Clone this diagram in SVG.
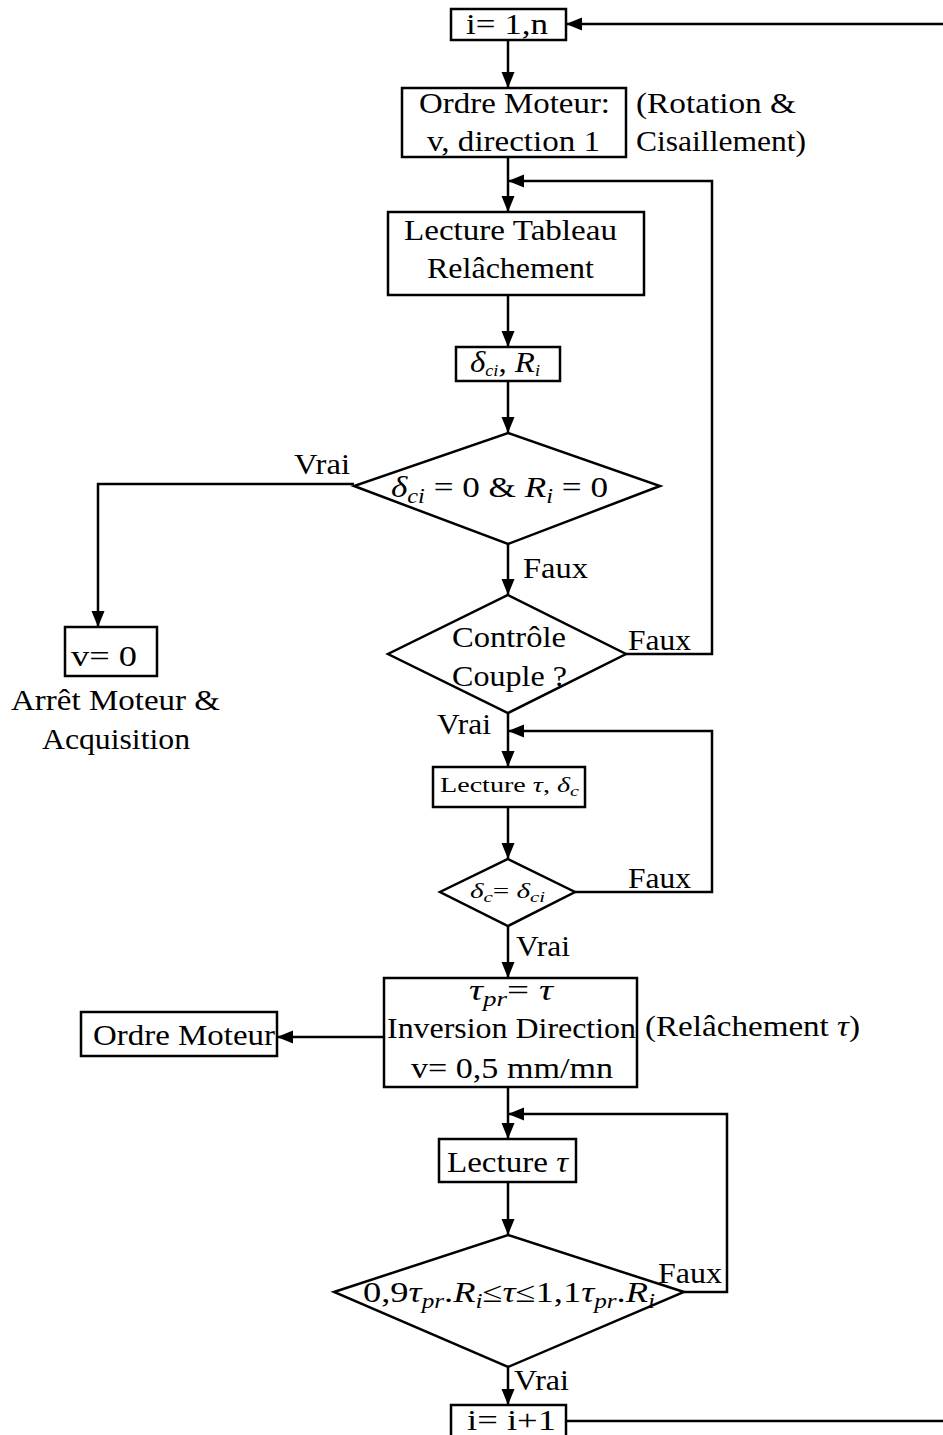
<svg xmlns="http://www.w3.org/2000/svg" width="943" height="1435" viewBox="0 0 943 1435">
<style>
.n{fill:#fff;stroke:#000;stroke-width:2.5}
.c{fill:none;stroke:#000;stroke-width:2.5}
text{font-family:"Liberation Serif","DejaVu Serif",serif;font-size:29px;fill:#000}
.s{font-size:21px}
.i{font-style:italic}
</style>
<defs>
<marker id="a" markerUnits="userSpaceOnUse" markerWidth="18" markerHeight="14" refX="16" refY="7" orient="auto">
<path d="M0,0.5 L16,7 L0,13.5 z" fill="#000"/>
</marker>
</defs>
<rect width="943" height="1435" fill="#fff"/>
<g id="connectors">
<path class="c" d="M943,24 L566,24" marker-end="url(#a)"/>
<path class="c" d="M508,40 L508,88" marker-end="url(#a)"/>
<path class="c" d="M508,157 L508,212" marker-end="url(#a)"/>
<path class="c" d="M626,654 L712,654 L712,181 L508,181" marker-end="url(#a)"/>
<path class="c" d="M508,295 L508,347" marker-end="url(#a)"/>
<path class="c" d="M508,381 L508,433" marker-end="url(#a)"/>
<path class="c" d="M354,484 L98,484 L98,627" marker-end="url(#a)"/>
<path class="c" d="M508,544 L508,595" marker-end="url(#a)"/>
<path class="c" d="M508,713 L508,767" marker-end="url(#a)"/>
<path class="c" d="M575,892 L712,892 L712,731 L508,731" marker-end="url(#a)"/>
<path class="c" d="M508,807 L508,859" marker-end="url(#a)"/>
<path class="c" d="M508,926 L508,978" marker-end="url(#a)"/>
<path class="c" d="M384,1037 L277,1037" marker-end="url(#a)"/>
<path class="c" d="M508,1087 L508,1139" marker-end="url(#a)"/>
<path class="c" d="M684,1292 L727,1292 L727,1114 L508,1114" marker-end="url(#a)"/>
<path class="c" d="M508,1182 L508,1235" marker-end="url(#a)"/>
<path class="c" d="M508,1367 L508,1405" marker-end="url(#a)"/>
<path class="c" d="M566,1421 L943,1421"/>
<text x="294" y="474" textLength="56" lengthAdjust="spacingAndGlyphs">Vrai</text>
<text x="523" y="578" textLength="65" lengthAdjust="spacingAndGlyphs">Faux</text>
<text x="628" y="650" textLength="63" lengthAdjust="spacingAndGlyphs">Faux</text>
<text x="437" y="734" textLength="54" lengthAdjust="spacingAndGlyphs">Vrai</text>
<text x="628" y="888" textLength="63" lengthAdjust="spacingAndGlyphs">Faux</text>
<text x="516" y="956" textLength="54" lengthAdjust="spacingAndGlyphs">Vrai</text>
<text x="658" y="1283" textLength="64" lengthAdjust="spacingAndGlyphs">Faux</text>
<text x="514" y="1390" textLength="55" lengthAdjust="spacingAndGlyphs">Vrai</text>
</g>
<g id="n_init">
<rect class="n" x="451" y="9" width="115" height="31"/>
<text x="466" y="34" textLength="82" lengthAdjust="spacingAndGlyphs">i= 1,n</text>
</g>
<g id="n_ordre1">
<rect class="n" x="402" y="88" width="224" height="69"/>
<text x="419" y="113" textLength="191" lengthAdjust="spacingAndGlyphs">Ordre Moteur:</text>
<text x="427" y="151" textLength="173" lengthAdjust="spacingAndGlyphs">v, direction 1</text>
<text x="636" y="113" textLength="160" lengthAdjust="spacingAndGlyphs">(Rotation &amp;</text>
<text x="636" y="151" textLength="170" lengthAdjust="spacingAndGlyphs">Cisaillement)</text>
</g>
<g id="n_tableau">
<rect class="n" x="388" y="212" width="256" height="83"/>
<text x="404" y="240" textLength="213" lengthAdjust="spacingAndGlyphs">Lecture Tableau</text>
<text x="427" y="278" textLength="167" lengthAdjust="spacingAndGlyphs">Relâchement</text>
</g>
<g id="n_dci">
<rect class="n" x="456" y="347" width="104" height="34"/>
<text x="470" y="372" font-size="23" textLength="70" lengthAdjust="spacingAndGlyphs"><tspan class="i">δ</tspan><tspan class="i" font-size="16" dy="4">ci</tspan><tspan dy="-4">, </tspan><tspan class="i">R</tspan><tspan class="i" font-size="16" dy="4">i</tspan></text>
</g>
<g id="n_test0">
<polygon class="n" points="508,433 660,486 508,544 354,486"/>
<text x="391" y="497" textLength="217" lengthAdjust="spacingAndGlyphs"><tspan class="i">δ</tspan><tspan class="i" font-size="20" dy="6">ci</tspan><tspan dy="-6"> = 0 &amp; </tspan><tspan class="i">R</tspan><tspan class="i" font-size="20" dy="6">i</tspan><tspan dy="-6"> = 0</tspan></text>
</g>
<g id="n_stop">
<rect class="n" x="65" y="627" width="92" height="49"/>
<text x="71" y="666" textLength="66" lengthAdjust="spacingAndGlyphs">v= 0</text>
<text x="11" y="710" textLength="209" lengthAdjust="spacingAndGlyphs">Arrêt Moteur &amp;</text>
<text x="42" y="749" textLength="148" lengthAdjust="spacingAndGlyphs">Acquisition</text>
</g>
<g id="n_couple">
<polygon class="n" points="508,595 626,654 508,713 388,654"/>
<text x="452" y="647" textLength="114" lengthAdjust="spacingAndGlyphs">Contrôle</text>
<text x="452" y="686" textLength="115" lengthAdjust="spacingAndGlyphs">Couple ?</text>
</g>
<g id="n_lecture1">
<rect class="n" x="433" y="767" width="152" height="40"/>
<text x="440" y="792" class="s" textLength="139" lengthAdjust="spacingAndGlyphs">Lecture <tspan class="i">τ</tspan>, <tspan class="i">δ</tspan><tspan class="i" font-size="15" dy="4">c</tspan></text>
</g>
<g id="n_test1">
<polygon class="n" points="508,859 575,892 508,926 440,892"/>
<text x="470" y="898" class="s" textLength="75" lengthAdjust="spacingAndGlyphs"><tspan class="i">δ</tspan><tspan class="i" font-size="15" dy="4">c</tspan><tspan dy="-4">= </tspan><tspan class="i">δ</tspan><tspan class="i" font-size="15" dy="4">ci</tspan></text>
</g>
<g id="n_inversion">
<rect class="n" x="384" y="978" width="253" height="109"/>
<text x="469" y="1000" textLength="84" lengthAdjust="spacingAndGlyphs"><tspan class="i">τ</tspan><tspan class="i" font-size="20" dy="6">pr</tspan><tspan dy="-6">= </tspan><tspan class="i">τ</tspan></text>
<text x="387" y="1038" textLength="249" lengthAdjust="spacingAndGlyphs">Inversion Direction</text>
<text x="411" y="1078" textLength="202" lengthAdjust="spacingAndGlyphs">v= 0,5 mm/mn</text>
<text x="645" y="1036" textLength="215" lengthAdjust="spacingAndGlyphs">(Relâchement <tspan class="i">τ</tspan>)</text>
</g>
<g id="n_ordre2">
<rect class="n" x="81" y="1012" width="196" height="44"/>
<text x="93" y="1045" textLength="182" lengthAdjust="spacingAndGlyphs">Ordre Moteur</text>
</g>
<g id="n_lecture2">
<rect class="n" x="439" y="1139" width="137" height="43"/>
<text x="447" y="1172" textLength="121" lengthAdjust="spacingAndGlyphs">Lecture <tspan class="i">τ</tspan></text>
</g>
<g id="n_test2">
<polygon class="n" points="508,1235 684,1292 508,1367 334,1292"/>
<text x="363" y="1302" textLength="292" lengthAdjust="spacingAndGlyphs">0,9<tspan class="i">τ</tspan><tspan class="i" font-size="20" dy="6">pr</tspan><tspan dy="-6">.</tspan><tspan class="i">R</tspan><tspan class="i" font-size="20" dy="6">i</tspan><tspan dy="-6">≤</tspan><tspan class="i">τ</tspan>≤1,1<tspan class="i">τ</tspan><tspan class="i" font-size="20" dy="6">pr</tspan><tspan dy="-6">.</tspan><tspan class="i">R</tspan><tspan class="i" font-size="20" dy="6">i</tspan></text>
</g>
<g id="n_incr">
<rect class="n" x="451" y="1405" width="115" height="40"/>
<text x="467" y="1430" textLength="89" lengthAdjust="spacingAndGlyphs">i= i+1</text>
</g>
</svg>
